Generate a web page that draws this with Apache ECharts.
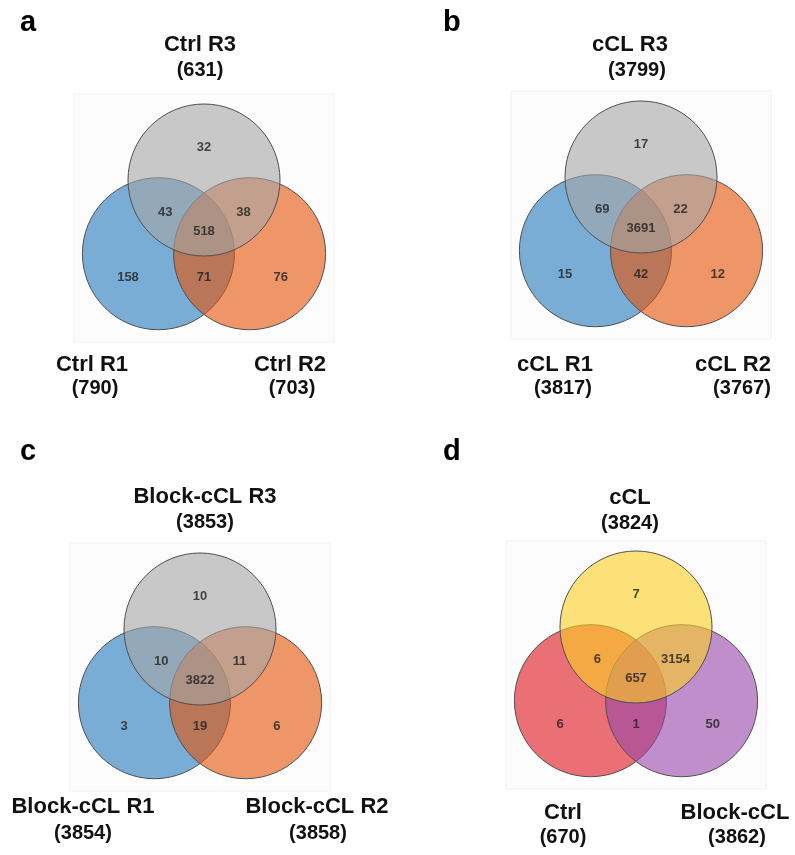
<!DOCTYPE html>
<html>
<head>
<meta charset="utf-8">
<script src="https://cdn.jsdelivr.net/npm/echarts@6/dist/echarts.min.js"></script>
<style>
  html, body { margin: 0; padding: 0; background: #ffffff; }
  #chart { width: 795px; height: 855px; }
</style>
</head>
<body>
<div id="chart"></div>
<script>
// ---- Data ---------------------------------------------------------------
const panelLetters = ['a', 'b', 'c', 'd'];

// Set order in every panel: [left, right, top]
const setNames = [
  ['Ctrl R1', 'Ctrl R2', 'Ctrl R3'],
  ['cCL R1', 'cCL R2', 'cCL R3'],
  ['Block-cCL R1', 'Block-cCL R2', 'Block-cCL R3'],
  ['Ctrl', 'Block-cCL', 'cCL']
];
const setTotals = [
  [790, 703, 631],
  [3817, 3767, 3799],
  [3854, 3858, 3853],
  [670, 3862, 3824]
];

// Region counts: top only, left∩top, right∩top, all three, left only, left∩right, right only
const regionCounts = [
  [32, 43, 38, 518, 158, 71, 76],
  [17, 69, 22, 3691, 15, 42, 12],
  [10, 10, 11, 3822, 3, 19, 6],
  [7, 6, 3154, 657, 6, 1, 50]
];

// ---- Layout & style -----------------------------------------------------
const R = 76;                       // circle radius in px (1 axis unit)
const anchors = [[204, 180], [641, 177], [200, 629], [636, 627]];   // centre of top circle
const box = { l: -130, r: 130, t: -86, b: 162 };                     // faint backdrop, px from anchor

// circle centres in radius units: left, right, top
const circleCentres = [[-0.6, 0.97], [0.6, 0.97], [0, 0]];
// label spots for the seven regions, radius units
const regionSpots = [[0, -0.43], [-0.51, 0.43], [0.52, 0.43], [0, 0.68], [-1.0, 1.28], [0, 1.28], [1.01, 1.28]];

const palettes = [
  ['rgba(33,120,187,0.6)', 'rgba(230,82,7,0.6)', 'rgba(165,165,165,0.6)'],
  ['rgba(33,120,187,0.6)', 'rgba(230,82,7,0.6)', 'rgba(165,165,165,0.6)'],
  ['rgba(33,120,187,0.6)', 'rgba(230,82,7,0.6)', 'rgba(165,165,165,0.6)'],
  ['rgba(223,18,27,0.6)', 'rgba(152,68,168,0.6)', 'rgba(252,207,33,0.6)']
];

// set-name / total label positions (px): [left, right, top] each as [[nameX,nameY],[totX,totY]]
const setLabelPos = [
  [[[92, 365], [95, 388]], [[290, 365], [292, 388]], [[200, 45], [200, 70]]],
  [[[555, 365], [563, 388]], [[733, 365], [742, 388]], [[630, 45], [637, 70]]],
  [[[83, 807], [83, 833]], [[317, 807], [318, 833]], [[205, 497], [205, 522]]],
  [[[563, 813], [563, 837]], [[735, 813], [737, 837]], [[630, 498], [630, 523]]]
];
const letterPos = [[20, 23], [443, 23], [20, 452], [443, 452]];

const FONT = '"Liberation Sans", Arial, Helvetica, sans-serif';

// ---- Build option -------------------------------------------------------
const grids = [], xAxes = [], yAxes = [], series = [], graphics = [];

panelLetters.forEach((letter, i) => {
  const [ax, ay] = anchors[i];
  grids.push({
    left: ax + box.l, top: ay + box.t,
    width: box.r - box.l, height: box.b - box.t,
    show: true, backgroundColor: '#fcfcfc', borderColor: '#f0f0f0', borderWidth: 1
  });
  xAxes.push({ type: 'value', gridIndex: i, min: box.l / R, max: box.r / R, show: false });
  yAxes.push({ type: 'value', gridIndex: i, min: box.t / R, max: box.b / R, inverse: true, show: false });

  series.push({
    type: 'scatter', xAxisIndex: i, yAxisIndex: i, silent: true, clip: false,
    symbol: 'circle', symbolSize: 2 * R,
    data: circleCentres.map((c, k) => ({
      value: c,
      itemStyle: { color: palettes[i][k], borderColor: '#505050', borderWidth: 1, opacity: 1 }
    })),
    emphasis: { disabled: true }
  });

  series.push({
    type: 'scatter', xAxisIndex: i, yAxisIndex: i, silent: true, clip: false,
    symbolSize: 0, z: 5,
    data: regionSpots.map((s, k) => [s[0], s[1], regionCounts[i][k]]),
    label: {
      show: true, position: 'inside',
      formatter: p => String(p.value[2]),
      color: '#1e1e1e', fontSize: 13, fontWeight: 'bold', fontFamily: FONT
    },
    emphasis: { disabled: true }
  });

  graphics.push({
    type: 'text', x: letterPos[i][0], y: letterPos[i][1],
    style: { text: letter, fill: '#000', font: 'bold 29px ' + FONT, align: 'left', verticalAlign: 'middle' }
  });

  setNames[i].forEach((name, k) => {
    const [np, tp] = setLabelPos[i][k];
    graphics.push({
      type: 'text', x: np[0], y: np[1],
      style: { text: name, fill: '#111', font: 'bold 22px ' + FONT, align: 'center', verticalAlign: 'middle' }
    });
    graphics.push({
      type: 'text', x: tp[0], y: tp[1],
      style: { text: '(' + setTotals[i][k] + ')', fill: '#111', font: 'bold 20px ' + FONT, align: 'center', verticalAlign: 'middle' }
    });
  });
});

const chart = echarts.init(document.getElementById('chart'), null, { renderer: 'canvas' });
chart.setOption({
  animation: false,
  backgroundColor: '#ffffff',
  grid: grids,
  xAxis: xAxes,
  yAxis: yAxes,
  series: series,
  graphic: graphics
});
</script>
</body>
</html>
